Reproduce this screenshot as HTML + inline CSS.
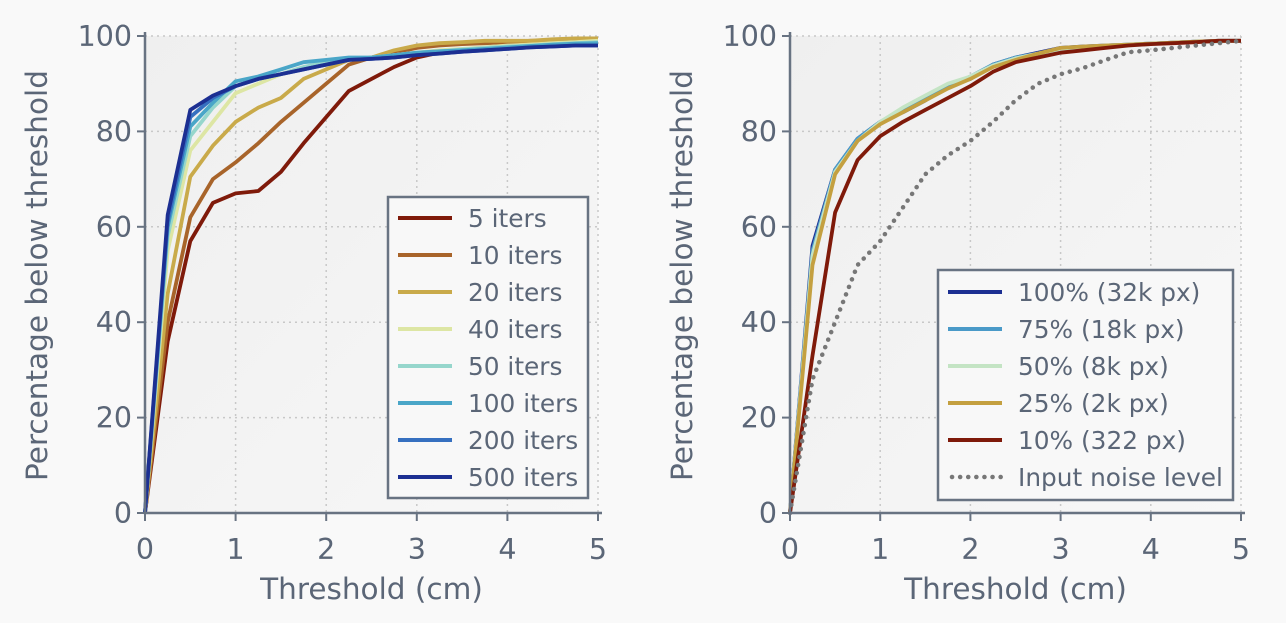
<!DOCTYPE html>
<html><head><meta charset="utf-8">
<style>
html,body{margin:0;padding:0;background:#f9f9f9;}
svg{display:block;font-family:"DejaVu Sans","Liberation Sans",sans-serif;}
</style></head>
<body>
<svg id="fig" width="1286" height="623" viewBox="0 0 1286 623" xmlns="http://www.w3.org/2000/svg">
<defs>
<linearGradient id="bg" x1="0" y1="0" x2="1" y2="1"><stop offset="0" stop-color="#efefef"/><stop offset="1" stop-color="#f7f7f7"/></linearGradient>
</defs>
<rect width="1286" height="623" fill="#f9f9f9"/>
<g id="left"></g>
<g id="right"></g>
</svg>
<script>
const xs = [0,0.25,0.5,0.75,1,1.25,1.5,1.75,2,2.25,2.5,2.75,3,3.25,3.5,3.75,4,4.25,4.5,4.75,5];
const xTicks = [0,1,2,3,4,5];
const yTicks = [0,20,40,60,80,100];
const leftLabels = ["5 iters","10 iters","20 iters","40 iters","50 iters","100 iters","200 iters","500 iters"];
const leftColors = ["#7f1a0a","#a8642a","#c9aa4a","#dde6a4","#96d6cc","#4aa6c8","#3670c0","#1c2f92"];
const it5   = [0,36,57,65,67,67.5,71.5,77.5,83,88.5,91,93.5,95.5,96.5,97,97.5,98,98,98.3,98.5,98.5];
const it10  = [0,40,62,70,73.5,77.5,82,86,90,94,95.5,96.5,97.5,98,98.3,98.5,98.7,99,99,99,99];
const it20  = [0,46,70.5,77,82,85,87,91,93,95,95.5,97,98,98.5,98.7,99,99,99,99.3,99.5,99.5];
const it40  = [0,55,76,82,88,90,92,93.5,94,95,95.5,96,96.5,97,97.3,97.6,98,98.2,98.5,98.7,99];
const it50  = [0,58,79,85,89.5,91,92,93.5,94.5,95,95.5,96,96.5,96.8,97.2,97.5,97.8,98,98.3,98.5,98.7];
const it100 = [0,60,81,86,90.5,91.5,93,94.5,95,95.5,95.5,96,96.5,96.8,97,97.3,97.6,97.9,98.2,98.4,98.5];
const it200 = [0,61,83,87,89.5,91,92,93,94,95,95.2,95.5,96,96.3,96.7,97,97.3,97.6,97.8,98,98];
const it500 = [0,62.5,84.5,87.5,89.5,91,92,93,94,95,95.2,95.5,96,96.3,96.7,97,97.3,97.6,97.8,98,98];
const leftSeries = [it5,it10,it20,it40,it50,it100,it200,it500];

const rightLabels = ["100% (32k px)","75% (18k px)","50% (8k px)","25% (2k px)","10% (322 px)","Input noise level"];
const rightColors = ["#1c2f92","#4a9ac8","#c4e4c4","#c4a040","#7f1a0a","#777777"];
const p100 = [0,56,72,78.5,82,84,86.5,89.5,91,94,95.5,96.5,97.5,97.8,98,98.2,98.4,98.6,98.8,99,99];
const p75  = [0,55,72,78.5,82,84.5,87,89.5,91.5,94,95.5,96.3,97.3,97.7,98,98.2,98.4,98.6,98.8,98.9,99];
const p50  = [0,54,71.5,78,82,85,87.5,90,91.5,93.8,95.3,96.3,97.3,97.7,98,98.2,98.4,98.6,98.8,98.9,99];
const p25  = [0,52,71,78,81.5,84,86.5,89,91,93.5,95,96.3,97.5,97.8,98,98.2,98.4,98.6,98.8,99,99];
const p10  = [0,33,63,74,79,82,84.5,87,89.5,92.5,94.5,95.5,96.5,97,97.5,98,98.3,98.5,98.7,99,99];
const noise= [0,28,40,52,57,64,71,75,78,82,86.5,90,92,93.3,95,96.6,97,97.5,98,98.5,99];
const rightSeries = [p100,p75,p50,p25,p10,noise];

const NS="http://www.w3.org/2000/svg";
function mk(tag,attrs,parent){const e=document.createElementNS(NS,tag);for(const k in attrs)e.setAttribute(k,attrs[k]);parent.appendChild(e);return e;}
const TXT="#5b6677";

function drawChart(g, x0, x1, series, labels, colors, legend, dotIdx){
  const yTop=36, yBot=513;
  const sx=v=>x0+(x1-x0)*v/5, sy=v=>yBot-(yBot-yTop)*v/100;
  let r=mk('rect',{x:x0,y:yTop,width:x1-x0,height:yBot-yTop,fill:'url(#bg)'},g);
  
  
  xTicks.forEach(t=>{ if(t>0){let l=mk('line',{x1:sx(t),x2:sx(t),y1:yTop,y2:yBot,stroke:'#c8c8c8','stroke-width':1.5,'stroke-dasharray':'2,4'},g);
    
    }});
  yTicks.forEach(t=>{ if(t>0){let l=mk('line',{x1:x0,x2:x1,y1:sy(t),y2:sy(t),stroke:'#c8c8c8','stroke-width':1.5,'stroke-dasharray':'2,4'},g);
    
    }});
  series.forEach((s,i)=>{
    const d=s.map((v,j)=>(j?'L':'M')+sx(xs[j]).toFixed(1)+','+sy(v).toFixed(1)).join('');
    const attrs={d:d,fill:'none',stroke:colors[i],'stroke-width':3.8,'stroke-linejoin':'round'};
    if(i===dotIdx){attrs['stroke-dasharray']='0.1,8';attrs['stroke-linecap']='round';attrs['stroke-width']=4.5;}
    let p=mk('path',attrs,g);
    
    
  });
  let ax=mk('path',{d:`M${x0},${yTop-4}V${yBot}H${x1+4}`,fill:'none',stroke:'#687382','stroke-width':2.5},g);
  
  
  xTicks.forEach(t=>{
    mk('line',{x1:sx(t),x2:sx(t),y1:yBot,y2:yBot+8,stroke:'#687382','stroke-width':2},g);
    let tx=mk('text',{x:sx(t),y:yBot+46,'text-anchor':'middle','font-size':28.5,fill:TXT},g);
    tx.textContent=t;
    
    
  });
  yTicks.forEach(t=>{
    mk('line',{x1:x0-8,x2:x0,y1:sy(t),y2:sy(t),stroke:'#687382','stroke-width':2},g);
    let tx=mk('text',{x:x0-13,y:sy(t)+10,'text-anchor':'end','font-size':28.5,fill:TXT},g);
    tx.textContent=t;
    
    
  });
  let xl=mk('text',{x:(x0+x1)/2,y:599,'text-anchor':'middle','font-size':29.5,fill:TXT},g);
  xl.textContent='Threshold (cm)';
  
  
  let yl=mk('text',{x:0,y:0,'text-anchor':'middle','font-size':29.5,fill:TXT,transform:`translate(${x0-98},${(yTop+yBot)/2+1}) rotate(-90)`},g);
  yl.textContent='Percentage below threshold';
  
  
  const lg=mk('g',{},g);
  
  
  mk('rect',{x:legend.x,y:legend.y,width:legend.w,height:legend.h,fill:'#f8f8f8',stroke:'#687382','stroke-width':2.5},lg);
  labels.forEach((lab,i)=>{
    const yy=legend.y+legend.top+i*legend.step;
    const la={x1:legend.x+10,x2:legend.x+64,y1:yy,y2:yy,stroke:colors[i],'stroke-width':4};
    if(i===dotIdx){la['stroke-dasharray']='0.1,8';la['stroke-linecap']='round';la['stroke-width']=4.5;la.x1=legend.x+14;}
    mk('line',la,lg);
    let t=mk('text',{x:legend.x+80,y:yy+9,'font-size':24.8,fill:TXT},lg);
    t.textContent=lab;
    
    
  });
}
drawChart(document.getElementById('left'),145,598,leftSeries,leftLabels,leftColors,{x:388,y:197,w:200,h:301,top:21,step:37},-1);
drawChart(document.getElementById('right'),790,1241,rightSeries,rightLabels,rightColors,{x:938,y:270,w:295,h:230,top:22,step:37},5);
</script>
</body></html>
